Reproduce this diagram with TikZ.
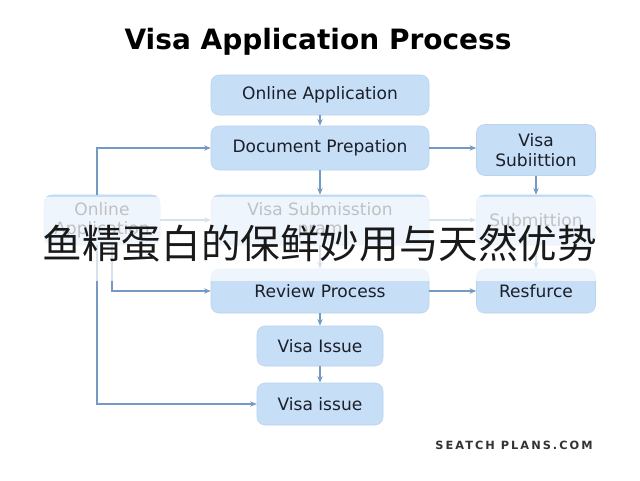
\documentclass[tikz,border=0pt]{standalone}
\usepackage{fontspec}
\setmainfont{DejaVu Sans}
\newfontfamily\cjkfont{Noto Sans CJK SC}
\usetikzlibrary{arrows.meta,calc}
\definecolor{boxfill}{HTML}{C6DEF6}
\definecolor{boxedge}{HTML}{BAD4EE}
\definecolor{flowline}{HTML}{7499C2}
\definecolor{inktext}{HTML}{1A1F2A}
\definecolor{marktext}{HTML}{333333}

\begin{document}
\begin{tikzpicture}[x=0.75pt,y=-0.75pt,
  stage/.style={rounded corners=6pt, fill=boxfill, draw=boxedge, line width=0.4pt, text=inktext, align=center, font=\fontsize{12.8}{14.5}\selectfont, inner sep=2pt},
  widebox/.style={stage, minimum width=163.5pt},
  sidebox/.style={stage, minimum width=89.25pt},
  smallbox/.style={stage, minimum width=94.5pt},
  flow/.style={draw=flowline, line width=0.8pt, -{Stealth[length=5pt,width=4pt]}}]
\useasboundingbox (0,0) rectangle (640,480);
\fill[white] (0,0) rectangle (640,480);

% title
\node[font=\bfseries\fontsize{21}{24}\selectfont, text=black] (title) at (318,42) {Visa Application Process};

% main column
\node[widebox, minimum height=30pt] (onlineApp) at (320,95) {Online Application};
\node[widebox, minimum height=33pt] (docPrep) at (320,148) {Document Prepation};
\node[widebox, minimum height=37.5pt] (submitProg) at (320,220) {Visa Submisstion\\pram};
\node[widebox, minimum height=33pt] (reviewProc) at (320,291) {Review Process};
\node[smallbox, minimum height=30pt] (visaIssue) at (320,346) {Visa Issue};
\node[smallbox, minimum height=31.5pt] (visaIssueB) at (320,404) {Visa issue};

% side columns
\node[sidebox, minimum height=38.25pt] (visaSubmit) at (536,150) {Visa\\Subiittion};
\node[sidebox, minimum height=37.5pt] (submitSide) at (536,220) {Submittion};
\node[sidebox, minimum height=33pt] (resfurce) at (536,291) {Resfurce};
\node[stage, minimum width=87pt, minimum height=37.5pt] (onlineLeft) at (102,220) {Online\\Application};

% connectors
\coordinate (leftBus) at (97,220);
\draw[flow] (onlineApp) -- (docPrep);
\draw[flow] (docPrep.east) -- (docPrep.east -| visaSubmit.west);
\draw[flow] (docPrep) -- (submitProg);
\draw[flow] (visaSubmit) -- (submitSide);
\draw[flow] (onlineLeft) -- (submitProg);
\draw[flow] (submitProg) -- (submitSide);
\draw[flow] (submitProg) -- (reviewProc);
\draw[flow] (submitSide) -- (resfurce);
\draw[flow] (reviewProc) -- (resfurce);
\draw[flow] (reviewProc) -- (visaIssue);
\draw[flow] (visaIssue) -- (visaIssueB);
\draw[flow] ([xshift=7.5pt]onlineLeft.south) |- (reviewProc.west);
\draw[flow] (leftBus |- onlineLeft.north) |- (docPrep.west);
\draw[flow] (leftBus |- onlineLeft.south) |- (visaIssueB.west);

% faded band and overlay caption
\fill[white, opacity=0.72] (0,197) rectangle (640,281);
\node[font=\cjkfont\fontsize{29.7}{30}\selectfont, text=black!90] (caption) at (320,244) {鱼精蛋白的保鲜妙用与天然优势};

% watermark
\node[font=\bfseries\fontsize{8.5}{10}\selectfont\addfontfeature{LetterSpace=18}, text=marktext] (mark) at (514,445) {SEATCH PLANS.COM};
\end{tikzpicture}
\end{document}
